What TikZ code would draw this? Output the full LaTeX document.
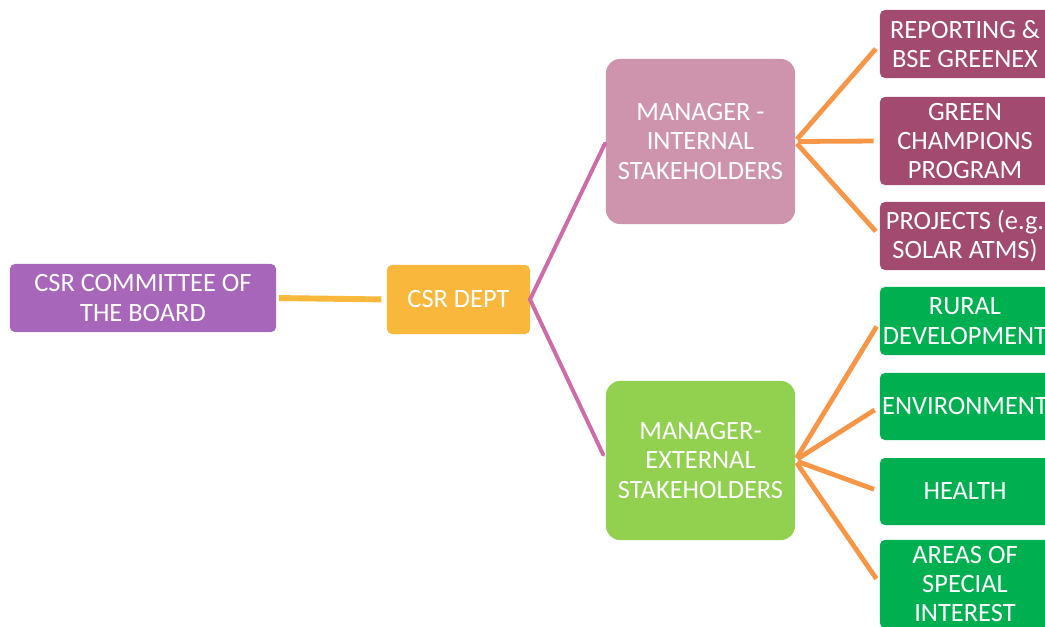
\documentclass[tikz,border=0pt]{standalone}
\usepackage{fontspec}
\setmainfont{Carlito}
\usetikzlibrary{positioning}

\definecolor{boardpurple}{RGB}{168,102,186}
\definecolor{deptyellow}{RGB}{249,183,59}
\definecolor{intpink}{RGB}{206,148,174}
\definecolor{linkpink}{RGB}{205,108,168}
\definecolor{extgreen}{RGB}{146,208,80}
\definecolor{taskplum}{RGB}{163,74,112}
\definecolor{areagreen}{RGB}{0,176,80}
\definecolor{linkorange}{RGB}{247,150,70}

\tikzset{
  box/.style={rectangle, rounded corners=3.5pt, text=white, align=center,
    inner sep=0pt, outer sep=0pt, font=\fontsize{18.8}{20.9}\selectfont},
  mgrbox/.style={box, rounded corners=10pt, minimum width=4.725cm},
  sidebox/.style={box, minimum width=4.25cm, minimum height=1.7cm},
  yellowlink/.style={draw=deptyellow, line width=4.2pt, shorten <=2pt, shorten >=4pt},
  pinklink/.style={draw=linkpink, line width=2.8pt, shorten <=1.5pt, shorten >=4.5pt},
  orangelink/.style={draw=linkorange, line width=3.4pt, shorten <=2pt, shorten >=4.5pt}
}

\begin{document}
\begin{tikzpicture}[x=0.025cm, y=-0.025cm]
  \useasboundingbox (0,0) rectangle (1045,626);

  %%%%% boxes %%%%%
  \node[box, fill=boardpurple, minimum width=6.65cm, minimum height=1.7cm] (board) at (143,298)
    {CSR COMMITTEE OF\\THE BOARD};
  \node[box, fill=deptyellow, minimum width=3.575cm, minimum height=1.725cm] (dept) at (458.5,299.5)
    {CSR DEPT};

  \node[mgrbox, fill=intpink, minimum height=4.125cm] (intmgr) at (700.5,141.5)
    {MANAGER -\\INTERNAL\\STAKEHOLDERS};
  \node[mgrbox, fill=extgreen, minimum height=3.975cm] (extmgr) at (700.5,460.5)
    {MANAGER-\\EXTERNAL\\STAKEHOLDERS};

  \node[sidebox, fill=taskplum] (report) at (965,44) {REPORTING \&\\BSE GREENEX};
  \node[sidebox, fill=taskplum, minimum height=2.2cm] (champ) at (965,141) {GREEN\\CHAMPIONS\\PROGRAM};
  \node[sidebox, fill=taskplum] (proj) at (965,236) {PROJECTS (e.g.\\SOLAR ATMS)};

  \node[sidebox, fill=areagreen] (rural) at (965,321) {RURAL\\DEVELOPMENT};
  \node[sidebox, fill=areagreen, minimum height=1.675cm] (env) at (965,406.5) {ENVIRONMENT};
  \node[sidebox, fill=areagreen, minimum height=1.675cm] (health) at (965,491.5) {HEALTH};
  \node[sidebox, fill=areagreen, minimum height=2.2cm] (areas) at (965,584) {AREAS OF\\SPECIAL\\INTEREST};

  %%%%% links %%%%%
  \draw[yellowlink] (board.east) -- (dept.west);

  \draw[pinklink, line cap=round] (intmgr.west) -- (dept.east) -- (extmgr.west);

  \foreach \t in {report,champ,proj}
    \draw[orangelink] (intmgr.east) -- (\t.west);
  \foreach \t in {rural,env,health,areas}
    \draw[orangelink] (extmgr.east) -- (\t.west);
\end{tikzpicture}
\end{document}
